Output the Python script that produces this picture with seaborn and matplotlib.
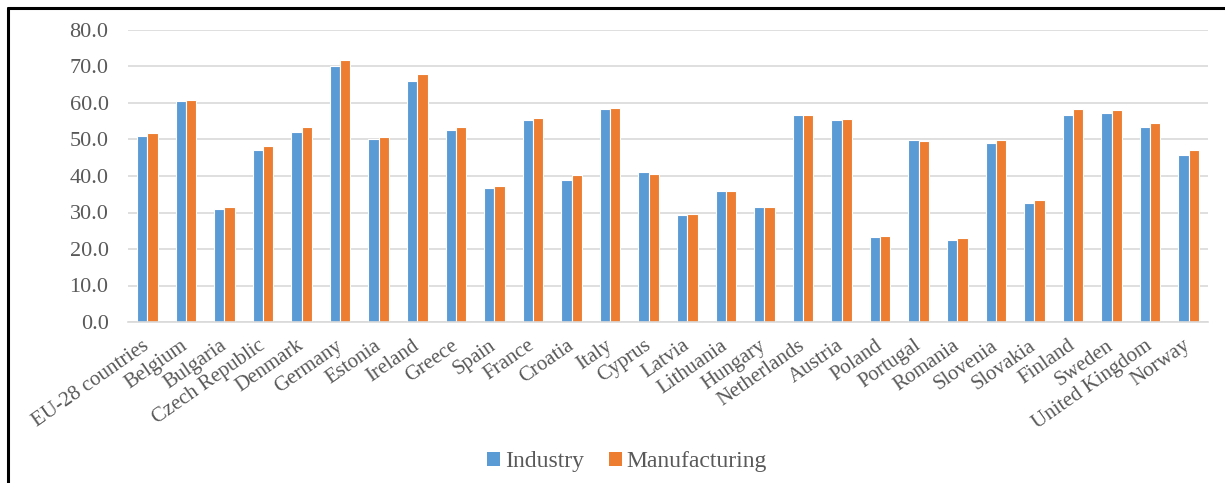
import matplotlib
matplotlib.use("Agg")
import matplotlib.pyplot as plt
from matplotlib.lines import Line2D
from matplotlib.patches import Patch
from matplotlib.transforms import ScaledTranslation
import seaborn as sns
import pandas as pd

countries = [
    "EU-28 countries", "Belgium", "Bulgaria", "Czech Republic", "Denmark",
    "Germany", "Estonia", "Ireland", "Greece", "Spain", "France", "Croatia",
    "Italy", "Cyprus", "Latvia", "Lithuania", "Hungary", "Netherlands",
    "Austria", "Poland", "Portugal", "Romania", "Slovenia", "Slovakia",
    "Finland", "Sweden", "United Kingdom", "Norway",
]
industry = [
    51.0, 60.5, 30.9, 47.1, 52.1, 70.2, 50.1, 66.1, 52.7, 36.6, 55.3, 38.8,
    58.4, 41.1, 29.3, 35.8, 31.6, 56.6, 55.3, 23.3, 49.9, 22.5, 49.0, 32.5,
    56.6, 57.2, 53.4, 45.7,
]
manufacturing = [
    51.9, 60.8, 31.4, 48.2, 53.4, 71.9, 50.6, 67.9, 53.4, 37.2, 55.9, 40.4,
    58.7, 40.6, 29.7, 35.8, 31.6, 56.6, 55.6, 23.6, 49.6, 23.0, 49.9, 33.3,
    58.3, 58.0, 54.5, 47.1,
]
series = ["Industry", "Manufacturing"]
yticks = [0, 10, 20, 30, 40, 50, 60, 70, 80]

df = pd.DataFrame({
    "country": countries * 2,
    "series": [series[0]] * len(countries) + [series[1]] * len(countries),
    "value": industry + manufacturing,
})

sns.set_theme(style="white")
plt.rcParams["font.family"] = ["Liberation Serif", "DejaVu Serif"]

text_color = "#595959"
palette = {"Industry": "#5B9BD5", "Manufacturing": "#ED7D31"}

fig = plt.figure(figsize=(12.25, 4.83), dpi=100)
ax = fig.add_axes([128 / 1225, 1 - 322 / 483, (1208 - 128) / 1225, (322 - 30) / 483])

sns.barplot(
    data=df, x="country", y="value", hue="series", order=countries,
    hue_order=series, palette=palette, width=0.53, edgecolor="white",
    linewidth=0.8, saturation=1, legend=False, ax=ax,
)

ax.set_ylim(0, 80)
ax.set_yticks(yticks)
ax.set_yticklabels([f"{v:.1f}" for v in yticks], fontsize=16, color=text_color)
ax.set_xlim(-0.5, len(countries) - 0.5)
ax.set_xlabel("")
ax.set_ylabel("")
ax.yaxis.grid(True, color="#d9d9d9", linewidth=1.2)
ax.set_axisbelow(True)
for side in ["top", "right", "left"]:
    ax.spines[side].set_visible(False)
ax.spines["bottom"].set_color("#d9d9d9")
ax.spines["bottom"].set_linewidth(1.2)
ax.tick_params(axis="y", length=0, pad=14)
ax.tick_params(axis="x", length=0, pad=0)
ax.set_xticks(range(len(countries)))
ax.set_xticklabels(countries, rotation=35, ha="right", va="center",
                   rotation_mode="anchor", fontsize=15, color=text_color)
shift = ScaledTranslation(0.0, -0.22, fig.dpi_scale_trans)
for lbl in ax.get_xticklabels():
    lbl.set_transform(lbl.get_transform() + shift)

handles = [Patch(facecolor=palette[s], edgecolor="none") for s in series]
fig.legend(handles, series, loc="center", bbox_to_anchor=(0.512, 1 - 462 / 483),
           ncol=2, frameon=False, prop={"family": "Liberation Serif", "size": 17},
           handlelength=0.55, handleheight=0.55, handletextpad=0.2,
           columnspacing=1.05, labelcolor=text_color)

# outer chart frame (top and left edges)
fig.add_artist(Line2D([8 / 1225, 8 / 1225], [0, 1 - 7.5 / 483],
                      transform=fig.transFigure, color="black", linewidth=2.2))
fig.add_artist(Line2D([8 / 1225, 1], [1 - 7.5 / 483, 1 - 7.5 / 483],
                      transform=fig.transFigure, color="black", linewidth=2.2))

fig.savefig("out.png", dpi=100, facecolor="white")
